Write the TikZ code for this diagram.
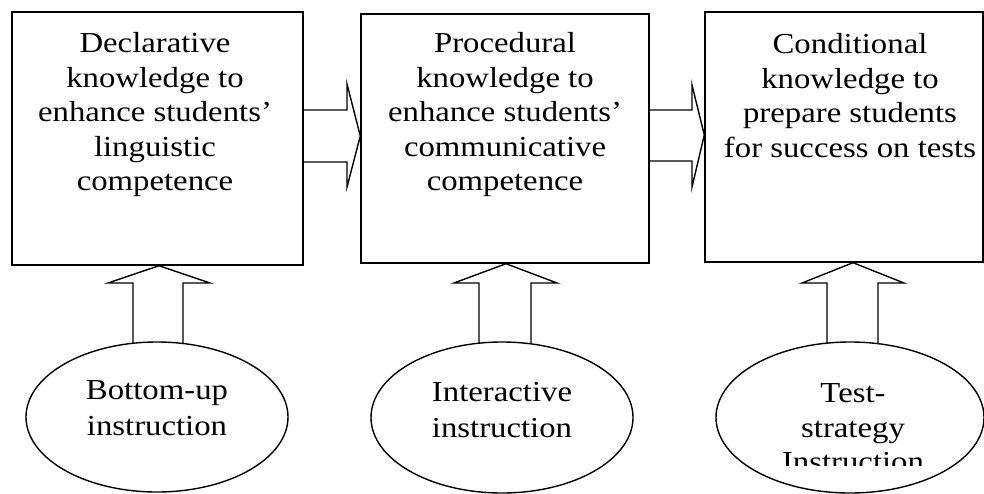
\documentclass[tikz,border=0pt]{standalone}
\usepackage{fontspec}
\setmainfont[FakeStretch=1.13]{Liberation Serif}
\usetikzlibrary{shapes.geometric}
\begin{document}
\begin{tikzpicture}[x=1pt,y=-1pt, line width=1.4pt,
  box/.style={draw, rectangle, inner sep=0pt},
  oval/.style={draw, ellipse, inner sep=0pt},
  txt/.style={align=center, inner sep=0pt, font=\fontsize{29}{34.5}\selectfont, anchor=north},
  otxt/.style={align=center, inner sep=0pt, font=\fontsize{29}{36}\selectfont, anchor=north},
  blk/.style={draw, line join=miter}]
\useasboundingbox (0,0) rectangle (984,493);
% boxes
\node[box, minimum width=291, minimum height=253] (b1) at (157.5,138.5) {};
\node[box, minimum width=288, minimum height=249] (b2) at (505,138.5) {};
\node[box, minimum width=278, minimum height=250] (b3) at (844,137) {};
% box texts
\node[txt] (t1) at (155,32) {Declarative\\knowledge to\\enhance students’\\linguistic\\competence};
\node[txt] (t2) at (505,32) {Procedural\\knowledge to\\enhance students’\\communicative\\competence};
\node[txt] (t3) at (850,33) {Conditional\\knowledge to\\prepare students\\for success on tests};
% ellipses
\node[oval, minimum width=262, minimum height=150] (e1) at (157,417) {};
\node[oval, minimum width=262, minimum height=151] (e2) at (502,417.5) {};
\node[oval, minimum width=268, minimum height=151] (e3) at (850,417.5) {};
\node[otxt] (u1) at (157,380) {Bottom-up\\instruction};
\node[otxt] (u2) at (502,382) {Interactive\\instruction};
\begin{scope}
  \clip (700,0) rectangle (984,465);
  \node[txt] (u3) at (853,383) {Test-\\strategy\\Instruction};
\end{scope}
% right block arrows
\draw[blk] (b1.east |- 0,110) -- (347,110) -- (347,84) -- (b2.west |- 0,136)
  -- (347,187) -- (347,162) -- (b1.east |- 0,162);
\draw[blk] (b2.east |- 0,110) -- (692,110) -- (692,85) -- (b3.west |- 0,135)
  -- (692,187) -- (692,161) -- (b2.east |- 0,161);
% up block arrows
\draw[blk] (133,343) -- (133,283) -- (108,283) -- (b1.south -| 159,0)
  -- (210,283) -- (183,283) -- (183,343);
\draw[blk] (479,343) -- (479,283) -- (454,283) -- (b2.south -| 506,0)
  -- (557,283) -- (531,283) -- (531,343);
\draw[blk] (827,343) -- (827,283) -- (802,283) -- (b3.south -| 853,0)
  -- (904,283) -- (878,283) -- (878,343);
\end{tikzpicture}
\end{document}
